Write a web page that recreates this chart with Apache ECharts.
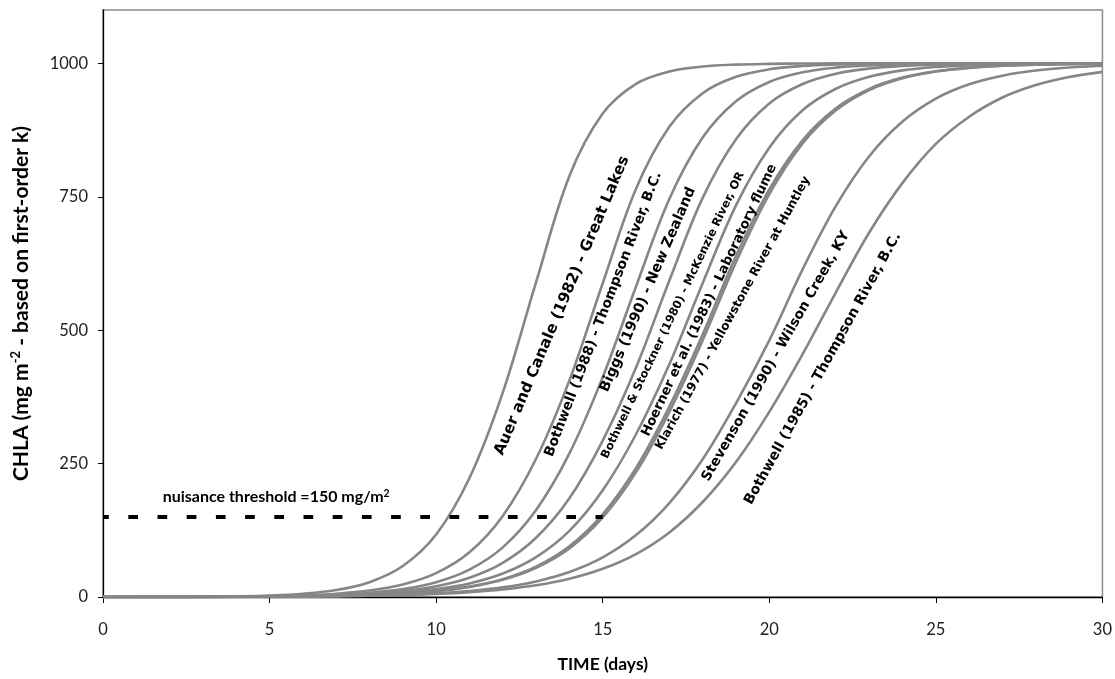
<!DOCTYPE html>
<html><head><meta charset="utf-8">
<script src="https://cdn.jsdelivr.net/npm/echarts@6/dist/echarts.min.js"></script>
<style>html,body{margin:0;padding:0;background:#fff}#c{width:1115px;height:679px}</style>
</head><body><div id="c"></div>
<script>
// Time axis (days)
const days = [0,1,2,3,4,5,6,7,8,9,10,11,12,13,14,15,16,17,18,19,20,21,22,23,24,25,26,27,28,29,30];
const yTicks = [0,250,500,750,1000];

// CHLA values (mg/m2) at each day
const auerCanale = [0.06,0.13,0.28,0.61,1.3,2.8,6.1,13,27.7,58,117,223,383,590,789,906,961.7,984.9,994.1,997.7,999.1,999.7,999.9,1000,1000,1000,1000,1000,1000,1000,1000];
const bothwell1988 = [0.06,0.11,0.22,0.43,0.84,1.6,3.2,6.2,12.1,23.4,44.7,83.8,152,259,406,588,765,881,944,974.8,988.8,995.1,997.8,999,999.6,999.8,999.9,1000,1000,1000,1000];
const biggs = [0.05,0.09,0.17,0.32,0.61,1.16,2.2,4.2,7.9,14.8,27.7,51.3,93,163,269,412,582,746,861,929,965.2,983.2,992,996.2,998.2,999.1,999.6,999.8,999.9,1000,1000];
const bothwellStockner = [0.05,0.09,0.17,0.31,0.56,1.03,1.87,3.4,6.2,11.2,20.2,36.2,64.1,111,185,293,430,593,748,858,925,961.4,980.7,990.4,995.3,997.7,998.8,999.4,999.7,999.9,999.9];
const hoerner = [0.05,0.09,0.16,0.29,0.5,0.89,1.56,2.7,4.8,8.4,14.7,25.5,44,74.8,124,200,305,436,588,734,842,912,952.4,974.8,986.8,993.1,996.4,998.2,999,999.5,999.7];
const klarich = [0.04,0.08,0.13,0.23,0.41,0.71,1.24,2.15,3.75,6.5,11.3,19.5,33.5,56.9,95,155,242,357,492,639,764,856,916,952.3,973.4,985.3,991.9,995.6,997.6,998.7,999.3];
const klarich2 = [0.04,0.07,0.13,0.22,0.39,0.68,1.18,2.06,3.58,6.2,10.8,18.7,32.1,54.6,91,149,234,347,481,627.5,755,850,912,950,972.1,984.6,991.5,995.4,997.5,998.6,999.2];
const stevenson = [0.05,0.08,0.14,0.22,0.37,0.6,0.97,1.59,2.59,4.22,6.87,11.2,18.1,29.2,46.8,74.2,116,176,258,363,481,614,733,826,891,934,960.8,976.9,986.5,992.2,995.5];
const bothwell1985 = [0.06,0.1,0.16,0.25,0.39,0.61,0.96,1.51,2.37,3.71,5.82,9.1,14.2,22.1,34.3,52.9,80.5,121,178,253,347,455,571,683,776,849,900,936,959.3,974.4,984];

// Nuisance threshold
const thresholdValue = 150;
const thresholdDays = [0, 15];

const seriesNames = [
  'Auer and Canale (1982) - Great Lakes',
  'Bothwell (1988) - Thompson River, B.C.',
  'Biggs (1990) - New Zealand',
  'Bothwell & Stockner (1980) - McKenzie River, OR',
  'Hoerner et al. (1983) - Laboratory flume',
  'Klarich (1977) - Yellowstone River at Huntley',
  'Klarich (1977) - Yellowstone River at Huntley (b)',
  'Stevenson (1990) - Wilson Creek, KY',
  'Bothwell (1985) - Thompson River, B.C.'
];
const seriesValues = [auerCanale, bothwell1988, biggs, bothwellStockner, hoerner, klarich, klarich2, stevenson, bothwell1985];

// Curve label texts and anchor (day, CHLA) where each label sits
const labelTexts = [
  'Auer and Canale (1982) - Great Lakes',
  'Bothwell (1988) - Thompson River, B.C.',
  'Biggs (1990) - New Zealand',
  'Bothwell & Stockner (1980) - McKenzie River, OR',
  'Hoerner et al. (1983) - Laboratory flume',
  'Klarich (1977) - Yellowstone River at Huntley',
  'Stevenson (1990) - Wilson Creek, KY',
  'Bothwell (1985) - Thompson River, B.C.'
];
const labelDays = [13.78, 15.02, 16.36, 17.11, 18.2, 18.91, 20.2, 21.61];
const labelValues = [546, 530, 576, 528, 556, 532, 451, 428];
const labelAngles = [67, 69, 66.6, 64.4, 64.7, 61.3, 60.4, 61];
const labelSizes = [15.3, 13.8, 14.2, 11.5, 13.2, 12.2, 13.8, 14];

const chart = echarts.init(document.getElementById('c'), null, {renderer: 'canvas'});
const FONT = 'Lato, "Open Sans", sans-serif';

const series = seriesValues.map((vals, i) => ({
  name: seriesNames[i],
  type: 'line',
  data: days.map((d, j) => [d, vals[j]]),
  smooth: 0.35,
  showSymbol: false,
  symbol: 'none',
  lineStyle: {color: '#868686', width: 2.6},
  z: 2,
  silent: true
}));
series.push({
  name: 'nuisance threshold',
  type: 'line',
  data: thresholdDays.map(d => [d, thresholdValue]),
  showSymbol: false,
  symbol: 'none',
  lineStyle: {color: '#000', width: 4, type: [9.7, 19.5], dashOffset: 3.9},
  z: 3,
  silent: true
});

chart.setOption({
  animation: false,
  backgroundColor: '#fff',
  grid: {left: 103, right: 12, top: 10, bottom: 82, show: true, borderColor: '#8c8c8c', borderWidth: 1.5, backgroundColor: 'transparent'},
  xAxis: {
    type: 'value', min: 0, max: 30, interval: 5,
    name: 'TIME (days)', nameLocation: 'middle', nameGap: 58,
    nameTextStyle: {fontFamily: FONT, fontWeight: 'bold', fontSize: 17.5, color: '#000'},
    axisLine: {lineStyle: {color: '#000', width: 1.3}},
    axisTick: {show: true, length: 6, lineStyle: {color: '#000'}},
    axisLabel: {fontFamily: FONT, fontSize: 16.5, color: '#222', margin: 24},
    splitLine: {show: false}
  },
  yAxis: {
    type: 'value', min: 0, max: 1100, interval: 250,
    name: '{a|CHLA (mg m}{s|-2}{a| - based on first-order k)}',
    nameLocation: 'middle', nameGap: 70, nameRotate: 90,
    nameTextStyle: {
      rich: {
        a: {fontFamily: FONT, fontWeight: 'bold', fontSize: 21, color: '#000'},
        s: {fontFamily: FONT, fontWeight: 'bold', fontSize: 13, color: '#000', verticalAlign: 'top', padding: [0,0,11,0]}
      }
    },
    axisLine: {show: true, lineStyle: {color: '#000', width: 1.3}},
    axisTick: {show: true, length: 5, lineStyle: {color: '#000'}},
    axisLabel: {fontFamily: FONT, fontSize: 16.5, color: '#222', margin: 15, showMaxLabel: false,
      formatter: v => (yTicks.indexOf(v) >= 0 ? String(v) : '')},
    splitLine: {show: false}
  },
  series: series
});

function placeLabels() {
  const graphics = labelTexts.map((t, i) => {
    const p = chart.convertToPixel({gridIndex: 0}, [labelDays[i], labelValues[i]]);
    return {
      type: 'text', x: p[0], y: p[1], rotation: labelAngles[i] * Math.PI / 180, z: 10,
      style: {text: t, fontFamily: '"DejaVu Sans", Verdana, sans-serif', fontWeight: 'bold',
        fontSize: labelSizes[i], fill: '#000', align: 'center', verticalAlign: 'middle'}
    };
  });
  const tp = chart.convertToPixel({gridIndex: 0}, [1.79, 187]);
  graphics.push({
    type: 'text', x: tp[0], y: tp[1], z: 10,
    style: {
      text: '{a|nuisance threshold =150 mg/m}{s|2}',
      align: 'left', verticalAlign: 'middle',
      rich: {
        a: {fontFamily: FONT, fontWeight: 'bold', fontSize: 16, fill: '#000'},
        s: {fontFamily: FONT, fontWeight: 'bold', fontSize: 10.5, fill: '#000', verticalAlign: 'top', padding: [0,0,8,0]}
      }
    }
  });
  chart.setOption({graphic: graphics});
}
placeLabels();
</script>
</body></html>
